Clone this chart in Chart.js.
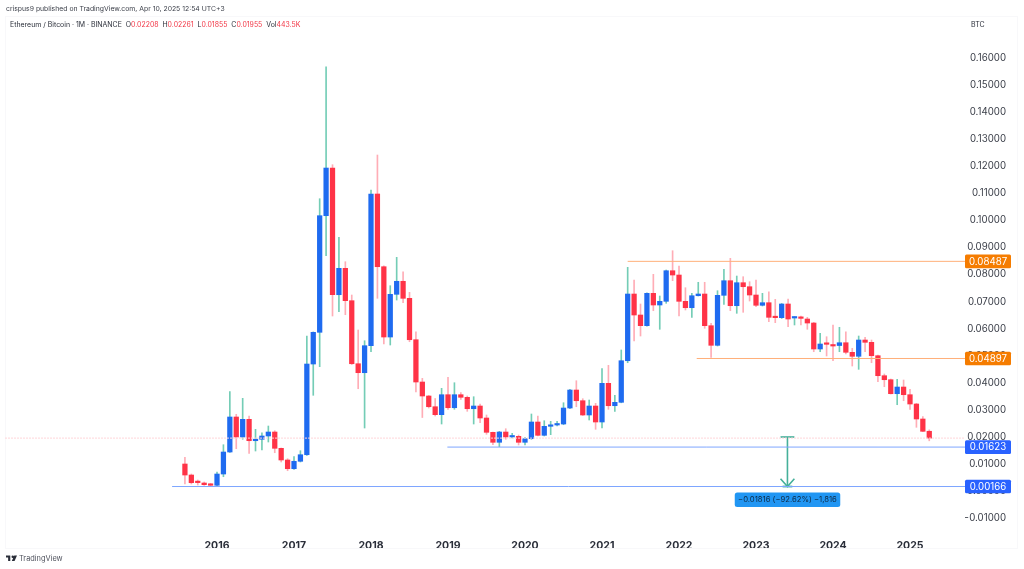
<!DOCTYPE html>
<html><head><meta charset="utf-8">
<script src="https://cdn.jsdelivr.net/npm/chart.js@4"></script>
<style>
html,body{margin:0;padding:0;background:#fff;width:1024px;height:569px;overflow:hidden;font-family:Inter,"Liberation Sans",sans-serif}
#c{position:absolute;left:0;top:0}
.t{position:absolute;white-space:pre;font-family:Inter,"Liberation Sans",sans-serif}
.r{color:#f23645}
#frame{position:absolute;left:5px;top:16px;width:1013px;height:533px;border:1px solid #f8f8fa;box-sizing:border-box}
</style></head><body>
<div id="frame"></div>
<canvas id="c" width="1024" height="569"></canvas>
<div class="t" style="left:6px;top:3px;font-size:6.85px;line-height:12px;color:#3a3e48">crispus9 published on TradingView.com, Apr 10, 2025 12:54 UTC+3</div>
<div class="t" style="left:10px;top:19px;font-size:6.95px;line-height:12px;color:#2a2e39">Ethereum / Bitcoin · 1M · BINANCE  O<span class="r">0.02208</span>  H<span class="r">0.02261</span>  L<span class="r">0.01855</span>  C<span class="r">0.01955</span>  Vol<span class="r">443.5K</span></div>
<div class="t" style="left:971px;top:19px;font-size:7px;line-height:12px;color:#2a2e39">BTC</div>
<svg style="position:absolute;left:6px;top:555px" width="11" height="7" viewBox="0 0 36 20"><path fill="#2a2e39" d="M0 0h14v18H7V7H0zM22 0a4 4 0 1 1 0 8 4 4 0 0 1 0-8zM27 0h9l-8 18h-9z"/></svg>
<div class="t" style="left:19px;top:553px;font-size:7.4px;line-height:12px;color:#50535e">TradingView</div>
<script>
const yearLabels = ["2016","2017","2018","2019","2020","2021","2022","2023","2024","2025"];
const yearStartIndex = [5,17,29,41,53,65,77,89,101,113];
const yTicks = [0.16,0.15,0.14,0.13,0.12,0.11,0.10,0.09,0.08,0.07,0.06,0.05,0.04,0.03,0.02,0.01,0,-0.01];

const opens = [.00998,.00591,.00340,.00296,.00259,.00211,.00628,.01441,.02735,.01996,
.02650,.01859,.01911,.02033,.02180,.01578,.01146,.00824,.01098,.01341,
.04693,.05865,.10174,.11936,.07254,.08230,.07033,.04704,.04372,.05370,
.10976,.08289,.05691,.07269,.07750,.07121,.05591,.04028,.03511,.03115,
.02820,.03559,.03078,.03559,.03463,.03041,.03141,.02698,.02169,.01800,
.02180,.01996,.02020,.01800,.01933,.02550,.02058,.02391,.02439,.02476,
.03067,.03732,.03337,.02809,.03141,.02550,.03980,.03152,.03278,.04815,
.07280,.06504,.06109,.07306,.06874,.07010,.08141,.07982,.07010,.06774,
.07217,.07280,.06109,.05384,.07232,.07772,.06848,.07698,.07550,.07243,
.06863,.06959,.06419,.06405,.06911,.06393,.06419,.06356,.06208,.05248,
.05458,.05400,.05376,.05480,.05126,.04978,.05580,.05495,.05000,.04261,
.04113,.03596,.03843,.03559,.03215,.02661,.02208];
const closes = [.00591,.00307,.00310,.00233,.00211,.00628,.01441,.02735,.01996,.02650,
.01859,.01911,.02033,.02180,.01578,.01146,.00824,.01098,.01341,.04693,
.05865,.10174,.11936,.07254,.08230,.07033,.04704,.04372,.05370,.10976,
.08289,.05691,.07269,.07750,.07121,.05591,.04028,.03511,.03115,.02820,
.03559,.03078,.03559,.03463,.03041,.03141,.02698,.02169,.01800,.02180,
.01996,.02020,.01800,.01933,.02550,.02058,.02391,.02439,.02476,.03067,
.03732,.03337,.02809,.03141,.02550,.03980,.03152,.03278,.04815,.07280,
.06504,.06109,.07306,.06874,.07010,.08141,.07982,.07010,.06774,.07217,
.07280,.06109,.05384,.07232,.07772,.06848,.07698,.07550,.07243,.06863,
.06959,.06419,.06405,.06911,.06356,.06419,.06380,.06208,.05248,.05432,
.05421,.05358,.05480,.05126,.04978,.05580,.05495,.05000,.04261,.04113,
.03596,.03843,.03559,.03215,.02661,.02206,.01955];
const highs = [.01245,.00628,.00407,.00333,.00285,.00702,.01711,.03670,.02835,.03426,
.02772,.02280,.02154,.02402,.02228,.01590,.01194,.01268,.01489,.05728,
.05880,.10802,.15680,.12059,.09375,.08474,.07243,.05950,.05554,.11123,
.12417,.08320,.07587,.08636,.08104,.07343,.05887,.04165,.03530,.03418,
.03795,.04202,.04002,.03633,.03511,.03485,.03215,.02809,.02180,.02206,
.02302,.02132,.02069,.01985,.02846,.02772,.02598,.02576,.02576,.03263,
.03758,.04076,.03411,.03363,.03241,.04520,.04645,.03537,.05211,.08267,
.07798,.06911,.07320,.08008,.07206,.08167,.08880,.08315,.07513,.07306,
.07713,.07713,.06197,.07402,.08193,.08599,.07945,.07920,.07735,.07798,
.07306,.07365,.07084,.06930,.07095,.06441,.06467,.06419,.06234,.05828,
.05702,.06135,.06050,.05887,.05274,.05728,.05680,.05580,.05026,.04324,
.04139,.04128,.04102,.03758,.03241,.02746,.02261];
const lows = [.00259,.00259,.00222,.00211,.00185,.00185,.00528,.01430,.01563,.01911,
.01393,.01478,.01515,.01811,.01415,.01072,.00750,.00802,.01072,.01319,
.03537,.04594,.08696,.06467,.06626,.06515,.04675,.03780,.02328,.05148,
.07121,.05432,.05395,.07058,.06959,.05517,.03659,.02716,.03067,.02772,
.02476,.03019,.03019,.03389,.02945,.02476,.02524,.02095,.01711,.01637,
.01911,.01959,.01700,.01700,.01911,.02033,.02033,.02081,.02402,.02450,
.03041,.03115,.02790,.02624,.02280,.02328,.03019,.02945,.03260,.04741,
.05543,.05728,.06090,.06663,.05976,.06936,.07772,.06467,.06689,.06419,
.07206,.06013,.04941,.05358,.06900,.06663,.06567,.06604,.07021,.06811,
.06837,.06257,.06220,.06375,.06072,.06135,.06135,.05976,.05148,.05148,
.04989,.04815,.05148,.05063,.04619,.04497,.05148,.04741,.04039,.03854,
.03585,.03189,.03337,.03019,.02354,.02191,.01855];

const levelValues = [0.08487,0.04897,0.01623,0.00166];
const levelStarts = [69,79.76,40.9,-2];
const levelColors = ["#ffb07a","#ffb07a","#7ea6ff","#7ea6ff"];
const badgeColors = ["#f57c00","#f57c00","#2962ff","#2962ff"];
const lastPrice = 0.01955;
const measureX = 93.9, measureCap = 1.08, measureTop = 0.01996, measureBottom = 0.00166, measureHead = 0.00450;
const measureText = "\u22120.01816 (\u221292.62%) \u22121,816";
const xMin = -28.04, xMax = 121.57;
const yMin = -0.01367, yMax = 0.17554;

const UP="#1f6bf0", DOWN="#ff3347", WICK_UP="#74cdb6", WICK_DOWN="#ffadb6";
const isUp = opens.map((o,i)=>closes[i]>=o);
const wicks = highs.map((h,i)=>({x:i,y:[lows[i],h]}));
const bodies = opens.map((o,i)=>({x:i,y:[Math.min(o,closes[i]),Math.max(o,closes[i])]}));

function lineDs(pts,color,width,extra){
  return Object.assign({type:"line",data:pts,borderColor:color,borderWidth:width,pointRadius:0,tension:0,fill:false,order:0},extra||{});
}
const levelDatasets = levelValues.map((v,i)=>lineDs([{x:levelStarts[i],y:v},{x:xMax,y:v}],levelColors[i],1));
const M="#45b09a";
const measureDatasets = [
  lineDs([{x:measureX,y:measureTop},{x:measureX,y:measureBottom}],M,1.6),
  lineDs([{x:measureX-measureCap,y:measureTop},{x:measureX+measureCap,y:measureTop}],M,1.6),
  lineDs([{x:measureX-measureCap,y:measureHead},{x:measureX,y:measureBottom},{x:measureX+measureCap,y:measureHead}],M,1.6),
  lineDs([{x:measureX-measureCap*0.7,y:measureBottom},{x:measureX+measureCap*0.7,y:measureBottom}],M,1.8)
];

const overlay = {
  id:"overlay",
  afterDraw(ch){
    const {ctx,scales:{x,y}} = ch;
    ctx.save();
    ctx.font='9.7px Inter, "Liberation Sans", sans-serif';
    ctx.textBaseline="middle"; ctx.textAlign="center";
    levelValues.forEach((v,i)=>{
      const py=y.getPixelForValue(v);
      ctx.fillStyle=badgeColors[i];
      ctx.beginPath(); ctx.roundRect(965,py-6.8,46,13.6,1.5); ctx.fill();
      ctx.fillStyle="#fff";
      ctx.fillText(v.toFixed(5),988,py+0.4);
    });
    const mx=x.getPixelForValue(measureX), my=y.getPixelForValue(measureBottom);
    ctx.fillStyle="#2196f3";
    ctx.beginPath(); ctx.roundRect(mx-52.7,my+6,105.5,14.6,2.5); ctx.fill();
    ctx.fillStyle="#0f2a44";
    ctx.font='7.7px Inter, "Liberation Sans", sans-serif';
    ctx.fillText(measureText,mx,my+13.5);
    ctx.restore();
  }
};

new Chart(document.getElementById("c"),{
  data:{datasets:[
    ...levelDatasets,
    lineDs([{x:xMin,y:lastPrice},{x:xMax,y:lastPrice}],"#ffd5d9",1,{borderDash:[2,1]}),
    ...measureDatasets,
    {type:"bar",data:wicks,backgroundColor:isUp.map(u=>u?WICK_UP:WICK_DOWN),barThickness:1,grouped:false,order:3},
    {type:"bar",data:bodies,backgroundColor:isUp.map(u=>u?UP:DOWN),barThickness:4.6,grouped:false,minBarLength:1.5,order:2}
  ]},
  options:{
    responsive:false,animation:false,devicePixelRatio:1,
    layout:{padding:{left:5,top:16,right:18,bottom:21}},
    plugins:{legend:{display:false},tooltip:{enabled:false},title:{display:false}},
    scales:{
      x:{type:"linear",min:xMin,max:xMax,offset:false,
        grid:{display:false},border:{display:false},
        afterBuildTicks(s){s.ticks=yearStartIndex.map(v=>({value:v}));},
        afterFit(s){s.height=20;},
        ticks:{autoSkip:false,maxRotation:0,padding:4,color:"#2a2e39",
          font:{family:'Inter, "Liberation Sans", sans-serif',size:10.5,weight:"700"},
          callback(v){return yearLabels[yearStartIndex.indexOf(v)]||"";}}
      },
      y:{type:"linear",position:"right",min:yMin,max:yMax,
        grid:{display:false},border:{display:false},
        afterBuildTicks(s){s.ticks=yTicks.map(v=>({value:v}));},
        afterFit(s){s.width=41;},
        ticks:{autoSkip:false,crossAlign:"far",padding:0,color:"#3a3e48",
          font:{family:'Inter, "Liberation Sans", sans-serif',size:9.7},
          callback(v){return v<0?"\u2212"+Math.abs(v).toFixed(5):Math.abs(v).toFixed(5);}}
      }
    }
  },
  plugins:[overlay]
});
</script>
</body></html>
